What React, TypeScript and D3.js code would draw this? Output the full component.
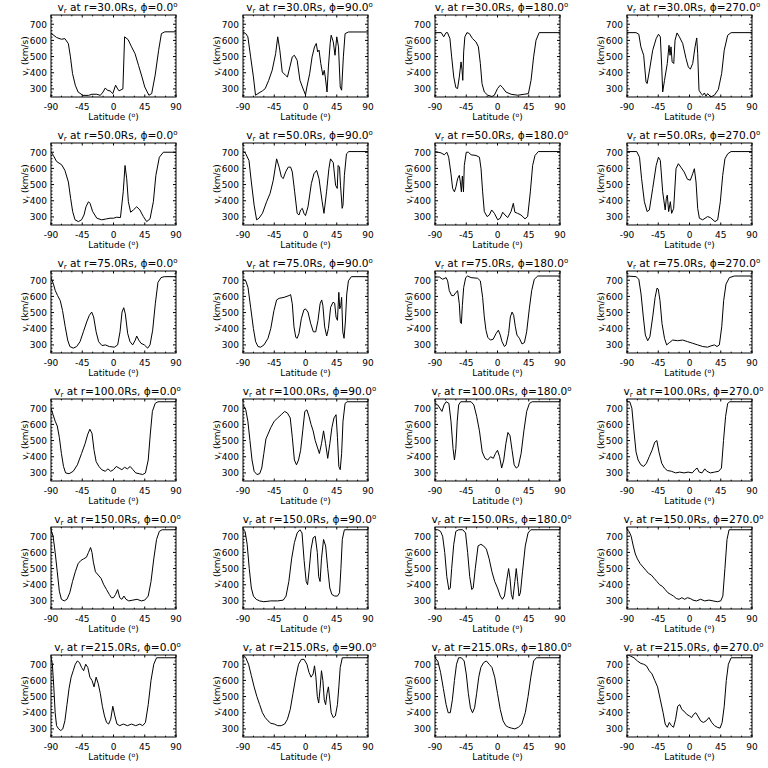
import React from 'react';
import * as d3 from 'd3';

const radii = [30, 50, 75, 100, 150, 215];
const phis = [0, 90, 180, 270];
const latTicks = [-90, -45, 0, 45, 90];
const vTicks = [300, 400, 500, 600, 700];

type Pt = [number, number];

// r = 30 Rs
const r30p0: Pt[] = [[-90,645],[-82,618],[-75,607],[-70,611],[-65,580],[-62,498],[-59,395],[-55,323],[-51,281],[-44,260],[-36,260],[-31,267],[-24,267],[-19,260],[-15,281],[-12,305],[-8,290],[-5,288],[-1,271],[3,323],[6,300],[8,288],[13.5,300],[16,622],[21,605],[26,560],[31,518],[36,446],[41,374],[45,312],[51,261],[55,271],[60,385],[65,539],[69,642],[74,653],[90,653]];
const r30p90: Pt[] = [[-90,652],[-86,642],[-83,622],[-79,498],[-75,374],[-72,261],[-67,275],[-62,288],[-58,302],[-53,353],[-48,415],[-43,518],[-40,622],[-37,540],[-33.5,405],[-29,385],[-26,374],[-22.5,436],[-19,498],[-16,508],[-12,477],[-8,353],[-4.5,312],[0,263],[2,312],[6,394],[9.5,498],[13,560],[15.5,581],[17.5,529],[19.5,540],[22,457],[25,385],[27,415],[28.5,374],[31,281],[33,436],[35.5,581],[37,632],[40,591],[42.5,508],[45,622],[47.5,560],[50,312],[52,292],[54.5,498],[57,642],[62,652],[90,652]];
const r30p180: Pt[] = [[-90,648],[-81,648],[-77.5,622],[-74,648],[-72,648],[-68.5,611],[-66,498],[-63,374],[-60,308],[-57.5,302],[-55,374],[-52.5,467],[-51,415],[-50,353],[-48.7,529],[-47,622],[-44,648],[-40.5,642],[-36,611],[-31,591],[-27.5,560],[-24.7,457],[-22.3,333],[-19,281],[-14,261],[-8,253],[-4.5,261],[0,302],[4,323],[7.5,308],[12,281],[19.5,267],[29,261],[38.5,267],[44.5,271],[48.3,353],[52,498],[55.5,601],[60,648],[90,648]];
const r30p270: Pt[] = [[-90,648],[-77,648],[-73,638],[-70,560],[-66,508],[-62.6,343],[-61,333],[-58,405],[-53,539],[-48,611],[-44.7,638],[-42,622],[-40,436],[-38.6,281],[-36,353],[-32,457],[-29.5,570],[-28,508],[-26.6,560],[-25,467],[-22.7,457],[-20.8,601],[-18,646],[-14.6,622],[-9.8,581],[-5,488],[-1.7,436],[1.2,422],[4.6,457],[8,560],[10.4,615],[11.8,518],[13.7,292],[16.6,271],[19,261],[21.4,275],[23.8,255],[26,271],[31,251],[35.8,261],[41.5,296],[46.3,395],[50,539],[55,632],[60,648],[90,648]];

// r = 50 Rs
const r50p0: Pt[] = [[-90,704],[-86.6,680],[-82,643],[-74.6,622],[-70,588],[-65,516],[-61.7,414],[-58.8,333],[-55.4,282],[-50.6,271],[-46,282],[-42.5,312],[-39.6,363],[-36,394],[-33.8,384],[-30,333],[-24,292],[-17,282],[-10,288],[-5,292],[0,292],[4.6,298],[10,296],[14,455],[16.6,618],[19,537],[21.4,394],[24.7,329],[28.6,343],[33.4,363],[38,343],[43,302],[47.8,271],[52.6,288],[57.4,394],[61,557],[66,669],[71.8,700],[90,700]];
const r50p90: Pt[] = [[-90,710],[-86,690],[-81.4,649],[-78,516],[-74,373],[-70.4,282],[-67,292],[-62,322],[-56,394],[-51,445],[-46.4,527],[-41.6,659],[-38,608],[-34.7,547],[-32,537],[-28.6,578],[-24.8,608],[-21.4,608],[-19,578],[-15.6,455],[-12,322],[-9.4,312],[-7,343],[-4.6,353],[-2.2,322],[0,308],[3.6,363],[8.4,506],[12.2,567],[16,588],[19.4,537],[24,394],[26.6,322],[30.3,455],[33.7,598],[36,659],[40,635],[43.3,496],[45.7,476],[47,618],[49,608],[50.4,496],[52.8,353],[54,373],[56,557],[59,690],[62.4,704],[90,704]];
const r50p180: Pt[] = [[-90,704],[-81.4,696],[-76.6,684],[-73,700],[-70.3,669],[-67,567],[-64.6,476],[-62,455],[-59.8,486],[-57.4,537],[-55,557],[-53.5,516],[-52,455],[-50.6,553],[-49,455],[-47.8,618],[-45,700],[-42,700],[-38,684],[-31,680],[-26,669],[-23.7,598],[-21.4,455],[-19,333],[-15,302],[-11.7,312],[-8.4,343],[-4.5,322],[0.3,282],[4,292],[7.5,329],[10.8,312],[14.7,296],[19.5,333],[22.8,384],[25,329],[29,322],[33.8,312],[39.6,288],[43.4,302],[47.3,455],[50.6,618],[54,680],[58.8,704],[90,704]];
const r50p270: Pt[] = [[-90,704],[-76,704],[-72,669],[-69,537],[-65,394],[-61,333],[-57.8,343],[-53,476],[-48,618],[-44.7,669],[-42,649],[-38.6,455],[-35,343],[-33.4,414],[-32,435],[-30,333],[-27.6,394],[-25.7,322],[-22.8,353],[-19.4,598],[-16,629],[-12.5,608],[-7.7,578],[-3,533],[1.2,527],[4.6,567],[7,598],[9.4,516],[11.8,353],[14.2,292],[19,282],[26,302],[30,296],[36.7,271],[40.6,282],[44.4,394],[47.8,557],[51,659],[55,690],[59.8,704],[90,704]];

// r = 75 Rs
const r75p0: Pt[] = [[-90,716],[-86.5,676],[-83.8,635],[-80.5,605],[-76.7,574],[-73.4,513],[-69.5,412],[-66,330],[-62.8,290],[-58,280],[-53,290],[-48.2,320],[-43.4,381],[-38.6,442],[-34.8,483],[-31.4,503],[-28.6,473],[-25,381],[-21.4,320],[-16.6,296],[-11.8,300],[-6,290],[1.3,286],[6,300],[9.4,381],[12.3,503],[14.7,530],[17,493],[20.4,371],[23.8,320],[27.6,300],[31.4,330],[33.4,355],[36.3,330],[39.6,310],[44.4,300],[49.2,280],[52.6,300],[56.4,391],[60.2,554],[64,686],[68.4,716],[73,722],[90,722]];
const r75p90: Pt[] = [[-90,706],[-86,696],[-82.8,655],[-79,533],[-75,401],[-71.8,320],[-68.4,290],[-64.6,286],[-59.8,300],[-54,341],[-50,401],[-45.4,513],[-41.6,578],[-38,588],[-31,594],[-23.7,605],[-21.4,611],[-19,554],[-16.6,412],[-14,347],[-12,341],[-9.4,371],[-6,462],[-2.3,517],[0,523],[3.6,503],[7.5,432],[11.3,381],[14.7,381],[18,452],[21,554],[23.3,578],[25,544],[27.6,412],[30.5,355],[33,401],[36.2,533],[39.6,564],[42,558],[44,472],[46,452],[48,625],[49.3,523],[50.8,544],[52,594],[53.7,381],[55.5,341],[57.4,442],[59.4,615],[61.8,696],[66,722],[90,722]];
const r75p180: Pt[] = [[-90,720],[-83.8,720],[-79,706],[-74,716],[-71.8,696],[-69.4,635],[-66,605],[-63,605],[-59.8,625],[-57.4,635],[-55,554],[-53.5,442],[-52,432],[-50.6,544],[-48.7,655],[-45.8,716],[-43,726],[-38,716],[-28.6,712],[-24.7,696],[-21.4,594],[-19,473],[-16.6,391],[-14,347],[-10.3,330],[-6.3,335],[-2,371],[1.2,391],[4,361],[6.5,320],[10,290],[12.3,300],[16,371],[18.5,473],[21,503],[23.3,483],[25.7,412],[28,361],[31.5,341],[35.3,306],[38.7,314],[42,381],[45.8,523],[49.2,635],[53,706],[58,726],[90,726]];
const r75p270: Pt[] = [[-90,726],[-77,722],[-73,706],[-69.8,615],[-66.5,473],[-63.6,361],[-60.2,326],[-57,351],[-53,473],[-49.5,594],[-46.8,651],[-45,645],[-42.5,574],[-39.6,432],[-36,341],[-32.9,300],[-29,314],[-24.2,330],[-17,326],[-9.8,330],[-2.6,320],[4.6,310],[11.8,300],[19,290],[26,286],[31,294],[35.8,300],[39.6,290],[43,300],[46.4,412],[49.2,574],[52.6,676],[57.4,716],[64.6,726],[90,726]];

// r = 100 Rs
const r100p0: Pt[] = [[-90,700],[-87,660],[-84,620],[-81,590],[-78,520],[-75,420],[-72,340],[-69,300],[-64,295],[-58,310],[-52,350],[-46,420],[-41,480],[-37,540],[-34,570],[-31,545],[-28,440],[-25,370],[-21,340],[-17,320],[-12,310],[-8,325],[-4,310],[0,320],[4,340],[8,330],[12,320],[16,335],[20,325],[24,340],[28,320],[32,300],[37,295],[42,290],[46,300],[50,380],[53,540],[56,680],[60,730],[64,740],[90,740]];
const r100p90: Pt[] = [[-90,720],[-86,690],[-83,620],[-80,500],[-77,380],[-74,310],[-70,290],[-66,295],[-63,330],[-60,420],[-57,510],[-54,540],[-50,580],[-45,620],[-40,640],[-35,660],[-30,680],[-26,670],[-22,640],[-19,520],[-16,380],[-13,350],[-10,380],[-7,440],[-4,560],[-1,680],[2,690],[5,650],[8,600],[11,560],[14,500],[17,460],[20,420],[23,480],[26,560],[29,480],[32,390],[35,480],[38,580],[41,640],[44,660],[46,520],[48,340],[50,320],[52,420],[54,620],[57,730],[60,740],[90,740]];
const r100p180: Pt[] = [[-90,730],[-86,720],[-83,700],[-80,680],[-77,720],[-74,740],[-70,730],[-67,620],[-64,450],[-62,380],[-60,450],[-58,620],[-56,720],[-53,740],[-38,740],[-34,720],[-30,650],[-26,560],[-22,430],[-18,390],[-14,380],[-10,400],[-6,390],[-3,420],[0,440],[3,400],[6,330],[9,380],[12,480],[15,550],[18,530],[21,440],[24,350],[27,330],[30,340],[34,420],[38,560],[42,680],[46,730],[50,740],[90,740]];
const r100p270: Pt[] = [[-90,740],[-86,740],[-83,700],[-80,560],[-77,430],[-74,380],[-70,350],[-66,340],[-62,360],[-58,400],[-54,440],[-50,490],[-47,500],[-44,430],[-40,360],[-36,330],[-32,315],[-26,310],[-20,300],[-14,305],[-8,300],[-2,305],[4,300],[8,320],[11,330],[14,305],[18,300],[22,325],[25,310],[30,300],[36,305],[42,310],[46,330],[49,500],[52,650],[55,730],[58,740],[90,740]];

// r = 150 Rs
const r150p0: Pt[] = [[-90,740],[-87,700],[-84,600],[-81,480],[-78,360],[-75,310],[-71,300],[-67,310],[-63,350],[-59,420],[-55,480],[-51,530],[-47,550],[-43,560],[-39,570],[-36,600],[-33,630],[-31,600],[-29,540],[-26,480],[-22,460],[-18,440],[-14,400],[-10,370],[-6,340],[-3,320],[0,320],[3,340],[6,370],[9,320],[12,310],[15,330],[18,310],[22,300],[28,305],[34,310],[40,300],[45,305],[50,330],[54,420],[58,560],[62,680],[66,730],[70,740],[90,740]];
const r150p90: Pt[] = [[-90,740],[-87,730],[-84,650],[-81,500],[-78,380],[-75,330],[-71,310],[-66,300],[-60,295],[-50,300],[-40,300],[-32,305],[-28,330],[-24,420],[-20,560],[-16,660],[-12,720],[-8,740],[-5,720],[-2,550],[1,420],[3,400],[5,480],[8,620],[11,690],[14,700],[17,600],[19,450],[21,420],[23,560],[26,680],[29,640],[32,500],[35,380],[38,340],[42,330],[46,330],[49,350],[51,500],[53,680],[56,740],[90,740]];
const r150p180: Pt[] = [[-90,740],[-86,740],[-82,730],[-79,700],[-76,600],[-73,450],[-70,370],[-68,380],[-66,500],[-63,650],[-60,730],[-56,740],[-50,740],[-46,720],[-43,600],[-40,450],[-37,370],[-35,380],[-32,500],[-28,640],[-24,650],[-20,640],[-16,620],[-12,560],[-8,480],[-4,420],[0,380],[4,330],[7,310],[10,330],[13,420],[16,500],[18,440],[20,340],[22,310],[25,420],[27,500],[29,420],[31,330],[33,350],[36,480],[40,640],[44,720],[48,740],[90,740]];
const r150p270: Pt[] = [[-90,740],[-87,730],[-84,700],[-81,640],[-78,590],[-75,560],[-71,530],[-67,510],[-63,490],[-59,470],[-55,460],[-51,440],[-47,420],[-43,400],[-39,390],[-35,370],[-31,350],[-27,340],[-23,330],[-19,315],[-15,310],[-11,320],[-7,310],[-3,320],[1,315],[5,305],[10,300],[16,310],[22,300],[28,305],[34,300],[40,295],[45,300],[48,330],[51,500],[54,680],[57,740],[90,740]];

// r = 215 Rs
const r215p0: Pt[] = [[-90,740],[-88,700],[-86,560],[-84,400],[-82,320],[-79,300],[-76,290],[-73,300],[-70,350],[-67,450],[-64,550],[-61,620],[-58,660],[-55,700],[-52,720],[-49,710],[-46,680],[-43,660],[-40,700],[-37,680],[-34,620],[-31,600],[-28,560],[-25,620],[-22,580],[-19,520],[-16,440],[-13,380],[-10,340],[-7,330],[-4,360],[-1,440],[2,380],[5,330],[9,320],[14,330],[20,320],[26,330],[32,320],[38,330],[42,320],[46,340],[50,450],[54,600],[58,700],[62,740],[90,740]];
const r215p90: Pt[] = [[-90,760],[-86,740],[-82,700],[-78,630],[-74,560],[-70,500],[-66,450],[-62,400],[-58,370],[-54,350],[-50,335],[-45,330],[-40,320],[-35,320],[-30,330],[-26,360],[-22,420],[-18,520],[-14,620],[-10,700],[-6,730],[-2,730],[2,700],[5,650],[8,620],[11,640],[13,690],[15,620],[17,500],[19,460],[21,550],[23,660],[25,600],[27,480],[29,450],[31,520],[33,560],[35,480],[37,400],[40,370],[43,380],[46,450],[48,560],[50,680],[53,740],[90,740]];
const r215p180: Pt[] = [[-90,740],[-86,720],[-82,650],[-78,550],[-74,450],[-71,400],[-68,400],[-65,480],[-62,600],[-59,700],[-56,740],[-52,740],[-48,720],[-45,640],[-42,520],[-39,430],[-36,400],[-33,430],[-30,520],[-27,620],[-24,680],[-20,710],[-16,720],[-12,700],[-8,680],[-4,620],[0,520],[4,420],[8,350],[12,320],[16,310],[20,305],[25,300],[30,310],[35,330],[40,400],[44,500],[48,620],[52,720],[56,740],[90,740]];
const r215p270: Pt[] = [[-90,760],[-85,750],[-80,740],[-75,720],[-70,705],[-66,700],[-62,690],[-58,660],[-54,640],[-50,600],[-46,560],[-42,480],[-38,400],[-35,330],[-32,310],[-29,340],[-26,320],[-23,310],[-20,360],[-17,440],[-14,450],[-11,420],[-8,410],[-4,390],[0,380],[3,370],[6,390],[9,400],[12,380],[16,350],[20,340],[24,350],[28,370],[32,340],[36,320],[40,310],[44,305],[47,340],[50,440],[53,600],[56,700],[60,740],[90,740]];

const series: Pt[][][] = [
  [r30p0, r30p90, r30p180, r30p270],
  [r50p0, r50p90, r50p180, r50p270],
  [r75p0, r75p90, r75p180, r75p270],
  [r100p0, r100p90, r100p180, r100p270],
  [r150p0, r150p90, r150p180, r150p270],
  [r215p0, r215p90, r215p180, r215p270],
];

const FONT = '"DejaVu Sans", sans-serif';
const PW = 125;
const PH = 82;

function Panel({ row, col }: { row: number; col: number }) {
  const left = 51 + 192 * col;
  const top = 15 + 128 * row;
  const x = d3.scaleLinear().domain([-90, 90]).range([left, left + PW]);
  const y = d3.scaleLinear().domain([250, 757]).range([top + PH, top]);
  const line = d3.line<Pt>().x(d => x(d[0])).y(d => y(d[1]));
  const clipId = `clip-${row}-${col}`;
  const minorX = d3.range(-90, 91, 15).filter(v => !latTicks.includes(v));
  const minorY = d3.range(260, 757, 20).filter(v => !vTicks.includes(v));
  const cx = left + PW / 2;
  return (
    <g>
      <clipPath id={clipId}>
        <rect x={left} y={top} width={PW} height={PH} />
      </clipPath>
      <path d={line(series[row][col]) ?? ''} fill="none" stroke="#000" strokeWidth={1} clipPath={`url(#${clipId})`} />
      <rect x={left} y={top} width={PW} height={PH} fill="none" stroke="#000" strokeWidth={1} />
      {latTicks.map(t => (
        <g key={`xt${t}`}>
          <line x1={x(t)} x2={x(t)} y1={top + PH} y2={top + PH - 2.5} stroke="#000" />
          <line x1={x(t)} x2={x(t)} y1={top} y2={top + 2.5} stroke="#000" />
          <text x={x(t)} y={top + PH + 13} textAnchor="middle" fontSize={9} fontFamily={FONT}>{t < 0 ? `-${-t}` : t}</text>
        </g>
      ))}
      {minorX.map(t => (
        <g key={`xm${t}`}>
          <line x1={x(t)} x2={x(t)} y1={top + PH} y2={top + PH - 1.3} stroke="#000" />
          <line x1={x(t)} x2={x(t)} y1={top} y2={top + 1.3} stroke="#000" />
        </g>
      ))}
      {vTicks.map(t => (
        <g key={`yt${t}`}>
          <line x1={left} x2={left + 3} y1={y(t)} y2={y(t)} stroke="#000" />
          <line x1={left + PW} x2={left + PW - 3} y1={y(t)} y2={y(t)} stroke="#000" />
          <text x={left - 4} y={y(t) + 3.3} textAnchor="end" fontSize={9} fontFamily={FONT}>{t}</text>
        </g>
      ))}
      {minorY.map(t => (
        <g key={`ym${t}`}>
          <line x1={left} x2={left + 1.5} y1={y(t)} y2={y(t)} stroke="#000" />
          <line x1={left + PW} x2={left + PW - 1.5} y1={y(t)} y2={y(t)} stroke="#000" />
        </g>
      ))}
      <text x={cx + 4} y={top - 4} textAnchor="middle" fontSize={10.6} fontFamily={FONT}>
        <tspan>v</tspan>
        <tspan fontSize={7} dy={2}>r</tspan>
        <tspan dy={-2}>{` at r=${radii[row].toFixed(1)}Rs, \u03d5=${phis[col].toFixed(1)}`}</tspan>
        <tspan fontSize={7} dy={-4}>o</tspan>
      </text>
      <text x={cx} y={top + PH + 23} textAnchor="middle" fontSize={9} fontFamily={FONT}>
        <tspan>Latitude (</tspan>
        <tspan fontSize={6} dy={-3}>o</tspan>
        <tspan dy={3}>)</tspan>
      </text>
      <text transform={`translate(${left - 23},${top + PH / 2}) rotate(-90)`} textAnchor="middle" fontSize={9} fontFamily={FONT}>
        <tspan>v</tspan>
        <tspan fontSize={6} dy={2}>r</tspan>
        <tspan dy={-2}> (km/s)</tspan>
      </text>
    </g>
  );
}

export default function App() {
  return (
    <svg width={768} height={768} style={{ position: 'absolute', left: 0, top: 0, background: '#fff' }}>
      <rect width={768} height={768} fill="#fff" />
      {radii.map((_, r) => phis.map((_, c) => <Panel key={`${r}-${c}`} row={r} col={c} />))}
    </svg>
  );
}
